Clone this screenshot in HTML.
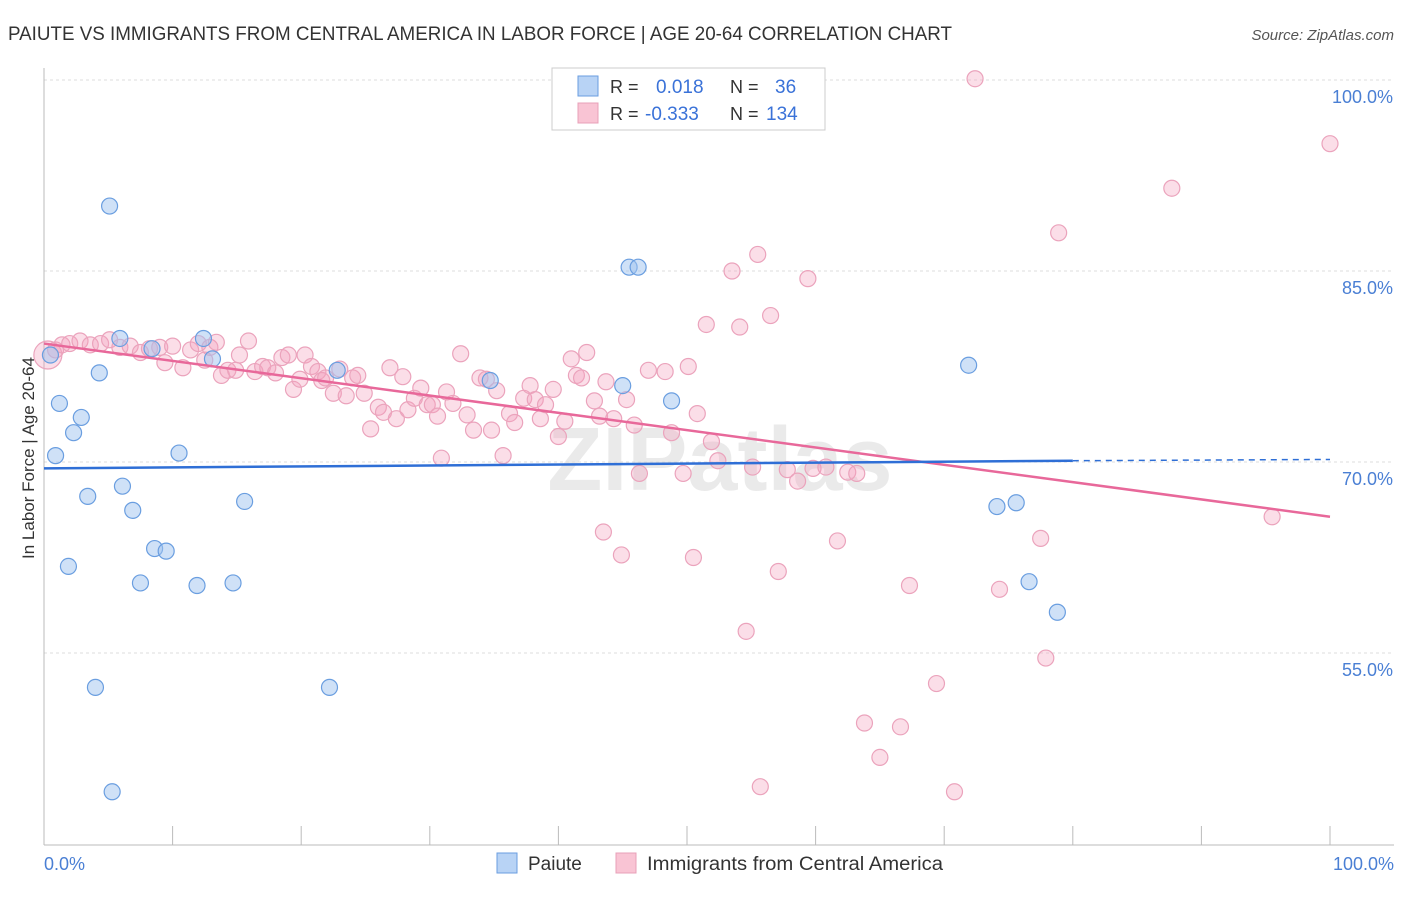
<!DOCTYPE html>
<html><head><meta charset="utf-8">
<style>
body{margin:0;background:#fff;font-family:"Liberation Sans",sans-serif;}
svg text{font-family:"Liberation Sans",sans-serif;}
</style></head>
<body>
<svg id="chart" width="1406" height="892" xmlns="http://www.w3.org/2000/svg">
<text x="8" y="40" font-size="19" fill="#333" textLength="944" lengthAdjust="spacingAndGlyphs">PAIUTE VS IMMIGRANTS FROM CENTRAL AMERICA IN LABOR FORCE | AGE 20-64 CORRELATION CHART</text>
<text x="1394" y="40" font-size="15" fill="#555" text-anchor="end" font-style="italic">Source: ZipAtlas.com</text>
<text x="720" y="490" font-size="90" fill="#ddd" text-anchor="middle" font-weight="bold" opacity="0.6">ZIPatlas</text>
<g id="grid"></g>
<g id="axes"></g>
<g id="points"></g>
<g id="trends"></g>
<text transform="translate(34,458) rotate(-90)" font-size="17" fill="#333" text-anchor="middle">In Labor Force | Age 20-64</text>
<text x="44" y="870" font-size="18" fill="#4a7fd4">0.0%</text>
<text x="1394" y="870" font-size="18" fill="#4a7fd4" text-anchor="end">100.0%</text>
<g>
<rect x="552" y="68" width="273" height="62" fill="#fff" stroke="#ccc"/>
<rect x="578" y="76" width="20" height="20" fill="#b8d3f5" stroke="#6a9ee0"/>
<rect x="578" y="103" width="20" height="20" fill="#f9c4d4" stroke="#e8a0b8"/>
<text x="610" y="93" font-size="18" fill="#333">R =</text>
<text x="656" y="93" font-size="19" fill="#3a72d8">0.018</text>
<text x="730" y="93" font-size="18" fill="#333">N =</text>
<text x="775" y="93" font-size="19" fill="#3a72d8">36</text>
<text x="610" y="120" font-size="18" fill="#333">R =</text>
<text x="645" y="120" font-size="19" fill="#3a72d8">-0.333</text>
<text x="730" y="120" font-size="18" fill="#333">N =</text>
<text x="766" y="120" font-size="19" fill="#3a72d8">134</text>
</g>
<g>
<rect x="497" y="853" width="20" height="20" fill="#b8d3f5" stroke="#6a9ee0"/>
<text x="528" y="870" font-size="19" fill="#333">Paiute</text>
<rect x="616" y="853" width="20" height="20" fill="#f9c4d4" stroke="#e8a0b8"/>
<text x="647" y="870" font-size="19" fill="#333" textLength="296" lengthAdjust="spacingAndGlyphs">Immigrants from Central America</text>
</g>
</svg>
<script>
const yTicks=[100,85,70,55];
const yTickLabels=["100.0%","85.0%","70.0%","55.0%"];
const xTicks=[0,10,20,30,40,50,60,70,80,90,100];
const blueX=[0.5,1.2,2.3,2.9,4.3,5.1,0.9,3.4,6.1,6.9,1.9,7.5,8.6,9.5,10.5,11.9,12.4,13.1,14.7,15.6,4.0,5.3,8.4,5.9,22.2,22.8,34.7,45.0,45.5,46.2,48.8,71.9,74.1,75.6,76.6,78.8];
const blueY=[78.4,74.6,72.3,73.5,77.0,90.1,70.5,67.3,68.1,66.2,61.8,60.5,63.2,63.0,70.7,60.3,79.7,78.1,60.5,66.9,52.3,44.1,78.9,79.7,52.3,77.2,76.4,76.0,85.3,85.3,74.8,77.6,66.5,66.8,60.6,58.2];
const pinkX=[0.3,0.9,1.4,2.0,2.8,3.6,4.4,5.1,5.9,6.7,7.5,8.2,9.0,9.4,10.0,10.8,11.4,12.0,12.5,12.9,13.4,13.8,14.3,14.9,15.2,15.9,16.4,17.0,17.4,18.0,18.5,19.0,19.4,19.9,20.3,20.8,21.3,21.6,21.9,22.5,23.0,23.5,24.0,24.4,24.9,25.4,26.0,26.4,26.9,27.4,27.9,28.3,28.8,29.3,29.8,30.2,30.6,30.9,31.3,31.8,32.4,32.9,33.4,33.9,34.4,34.8,35.2,35.7,36.2,36.6,37.3,37.8,38.2,38.6,39.0,39.6,40.0,40.5,41.0,41.4,41.8,42.2,42.8,43.2,43.5,43.7,44.3,44.9,45.3,45.9,46.3,47.0,48.3,48.8,49.7,50.1,50.5,50.8,51.5,51.9,52.4,53.5,54.1,54.6,55.1,55.5,55.7,56.5,57.1,57.8,58.6,59.4,59.8,60.8,61.7,62.5,63.2,63.8,65.0,66.6,67.3,69.4,70.8,72.4,74.3,77.5,77.9,78.9,87.7,95.5,100.0,47.7,49.5];
const pinkY=[78.4,78.8,79.2,79.3,79.5,79.2,79.3,79.6,79.0,79.1,78.6,78.9,79.0,77.8,79.1,77.4,78.8,79.3,78.0,79.0,79.4,76.8,77.2,77.2,78.4,79.5,77.1,77.5,77.4,77.0,78.2,78.4,75.7,76.5,78.4,77.5,77.1,76.4,76.6,75.4,77.3,75.2,76.6,76.8,75.4,72.6,74.3,73.9,77.4,73.4,76.7,74.1,75.0,75.8,74.5,74.5,73.6,70.3,75.5,74.6,78.5,73.7,72.5,76.6,76.5,72.5,75.6,70.5,73.8,73.1,75.0,76.0,74.9,73.4,74.5,75.7,72.0,73.2,78.1,76.8,76.6,78.6,74.8,73.6,64.5,76.3,73.4,62.7,74.9,72.9,69.1,77.2,77.1,72.3,69.1,77.5,62.5,73.8,80.8,71.6,70.1,85.0,80.6,56.7,69.6,86.3,44.5,81.5,61.4,69.4,68.5,84.4,69.5,69.6,63.8,69.2,69.1,49.5,46.8,49.2,60.3,52.6,44.1,100.1,60.0,64.0,54.6,88.0,91.5,65.7,95.0,100.1,100.1];
const blueTrend=[69.5,70.1,70.2]; // at x=0, 80, 100
const pinkTrend=[79.3,65.7]; // at x=0, 100

const NS="http://www.w3.org/2000/svg";
const X=v=>44+v*12.86;
const Y=v=>80+(100-v)*12.733;
function mk(tag,attrs,parent){const e=document.createElementNS(NS,tag);for(const k in attrs)e.setAttribute(k,attrs[k]);parent.appendChild(e);return e;}
const grid=document.getElementById('grid'),axes=document.getElementById('axes'),pts=document.getElementById('points'),tr=document.getElementById('trends');
yTicks.forEach((t,i)=>{
  const l=mk('line',{x1:44,x2:1394,y1:Y(t),y2:Y(t),stroke:'#ddd','stroke-dasharray':'3,3'},grid);
  
  
  const tx=mk('text',{x:1393,y:Y(t)+23,'font-size':18,fill:'#4a7fd4','text-anchor':'end'},grid);
  tx.textContent=yTickLabels[i];
  
  
});
const ax=mk('line',{x1:44,x2:1394,y1:845,y2:845,stroke:'#bbb'},axes);


const ay=mk('line',{x1:44,x2:44,y1:68,y2:845,stroke:'#bbb'},axes);


xTicks.forEach(t=>{
  const l=mk('line',{x1:X(t),x2:X(t),y1:826,y2:845,stroke:'#bbb'},axes);
  
  
});
pinkX.forEach((x,i)=>{
  const c=mk('circle',{cx:X(x),cy:Y(pinkY[i]),r:i===0?14:8,fill:'rgba(244,160,188,0.35)',stroke:'#eba3bc','stroke-width':1.2},pts);
  
  
});
blueX.forEach((x,i)=>{
  const c=mk('circle',{cx:X(x),cy:Y(blueY[i]),r:8,fill:'rgba(160,196,240,0.5)',stroke:'#6a9ee0','stroke-width':1.2},pts);
  
  
});
const pl=mk('line',{x1:X(0),y1:Y(pinkTrend[0]),x2:X(100),y2:Y(pinkTrend[1]),stroke:'#e8689a','stroke-width':2.5},tr);


const bl=mk('line',{x1:X(0),y1:Y(blueTrend[0]),x2:X(80),y2:Y(blueTrend[1]),stroke:'#2f6fd6','stroke-width':2.5},tr);


const bd=mk('line',{x1:X(80),y1:Y(blueTrend[1]),x2:X(100),y2:Y(blueTrend[2]),stroke:'#2f6fd6','stroke-width':1.5,'stroke-dasharray':'6,5'},tr);


</script>
</body></html>
